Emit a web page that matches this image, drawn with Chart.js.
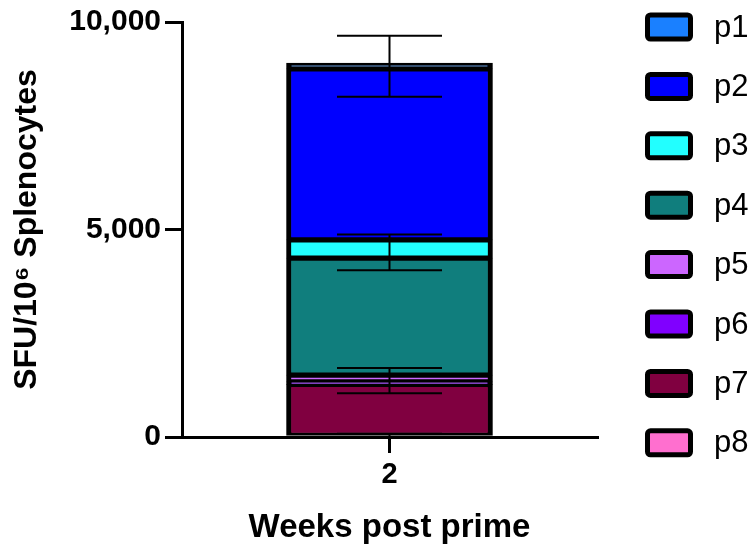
<!DOCTYPE html>
<html>
<head>
<meta charset="utf-8">
<script src="https://cdn.jsdelivr.net/npm/chart.js@4"></script>
<style>
  body { margin: 0; background: #fff; }
  canvas { display: block; }
</style>
</head>
<body>
<canvas id="chart" width="756" height="546"></canvas>
<script>
// categories and series (stack order: p8 at the bottom, p1 on top)
const weeks = ['2'];
const seriesNames = ['p1', 'p2', 'p3', 'p4', 'p5', 'p6', 'p7', 'p8'];
const seriesColors = ['#1A80FF', '#0000FF', '#22FFFF', '#107E7D', '#CC66FF', '#8000FF', '#800040', '#FF6FCF'];
const p1 = [140];
const p2 = [4120];
const p3 = [440];
const p4 = [2820];
const p5 = [160];
const p6 = [60];
const p7 = [1270];
const p8 = [0];
const seriesValues = [p1, p2, p3, p4, p5, p6, p7, p8];

// error bars (mean +/- sd) drawn over the stack
const errMean = [8935, 4450, 1360, 0];
const errSd = [735, 430, 305, 80];

const yTicks = [0, 5000, 10000];

Chart.defaults.font.family = "'Liberation Sans', Arial, sans-serif";
Chart.defaults.color = '#000';

const datasets = seriesNames.map((name, i) => ({
  label: name,
  data: seriesValues[i],
  backgroundColor: seriesColors[i],
  borderColor: '#000',
  borderWidth: { top: 3, bottom: 3, left: 5, right: 5 },
  borderSkipped: false,
  barThickness: 206,
})).reverse();

const errorBarPlugin = {
  id: 'errorBars',
  afterDatasetsDraw(chart) {
    const ctx = chart.ctx;
    const y = chart.scales.y;
    const meta = chart.getDatasetMeta(0);
    const cx = meta.data[0].x;
    const half = 52.5;
    ctx.save();
    ctx.strokeStyle = '#000';
    ctx.lineWidth = 2;
    errMean.forEach((m, i) => {
      const hi = y.getPixelForValue(m + errSd[i]);
      const lo = y.getPixelForValue(Math.max(0, m - errSd[i]));
      ctx.beginPath();
      ctx.moveTo(cx, hi); ctx.lineTo(cx, lo);
      ctx.moveTo(cx - half, hi); ctx.lineTo(cx + half, hi);
      ctx.moveTo(cx - half, lo); ctx.lineTo(cx + half, lo);
      ctx.stroke();
    });
    ctx.restore();
  }
};

const legendPlugin = {
  id: 'sideLegend',
  afterDraw(chart) {
    const ctx = chart.ctx;
    ctx.save();
    seriesNames.forEach((name, i) => {
      const cy = 27 + i * 59.4;
      ctx.fillStyle = seriesColors[i];
      ctx.strokeStyle = '#000';
      ctx.lineWidth = 5;
      ctx.beginPath();
      ctx.roundRect(647.5, cy - 12, 43, 24, 3);
      ctx.fill();
      ctx.stroke();
      ctx.fillStyle = '#000';
      ctx.font = "31px 'Liberation Sans', Arial, sans-serif";
      ctx.textBaseline = 'middle';
      ctx.fillText(name, 714, cy + 1);
    });
    ctx.restore();
  }
};

new Chart(document.getElementById('chart'), {
  type: 'bar',
  data: { labels: weeks, datasets: datasets },
  options: {
    responsive: false,
    animation: false,
    devicePixelRatio: 1,
    layout: { padding: { top: 22, right: 159, left: 0, bottom: 0 } },
    plugins: { legend: { display: false }, tooltip: { enabled: false } },
    scales: {
      x: {
        stacked: true,
        offset: true,
        border: { color: '#000', width: 3 },
        grid: { offset: false, drawOnChartArea: false, color: '#000', lineWidth: 3, tickLength: 16 },
        ticks: { padding: 5, font: { size: 29, weight: 'bold' } },
        title: {
          display: true,
          text: 'Weeks post prime',
          font: { size: 33, weight: 'bold', lineHeight: 1.1 },
          padding: { top: 0, bottom: 0 },
        },
        afterFit(scale) { scale.height = 109; },
      },
      y: {
        stacked: true,
        min: 0,
        max: 10000,
        border: { color: '#000', width: 3 },
        grid: { drawOnChartArea: false, color: '#000', lineWidth: 3, tickLength: 17 },
        afterBuildTicks(scale) { scale.ticks = yTicks.map(v => ({ value: v })); },
        ticks: {
          padding: 4,
          font: { size: 30, weight: 'bold' },
          callback: v => v.toLocaleString('en-US'),
        },
        title: {
          display: true,
          text: 'SFU/10⁶ Splenocytes',
          font: { size: 32, weight: 'bold', lineHeight: 1.1 },
          padding: { top: 10, bottom: 0 },
        },
        afterFit(scale) { scale.width = 182; },
      },
    },
  },
  plugins: [errorBarPlugin, legendPlugin],
});
</script>
</body>
</html>
